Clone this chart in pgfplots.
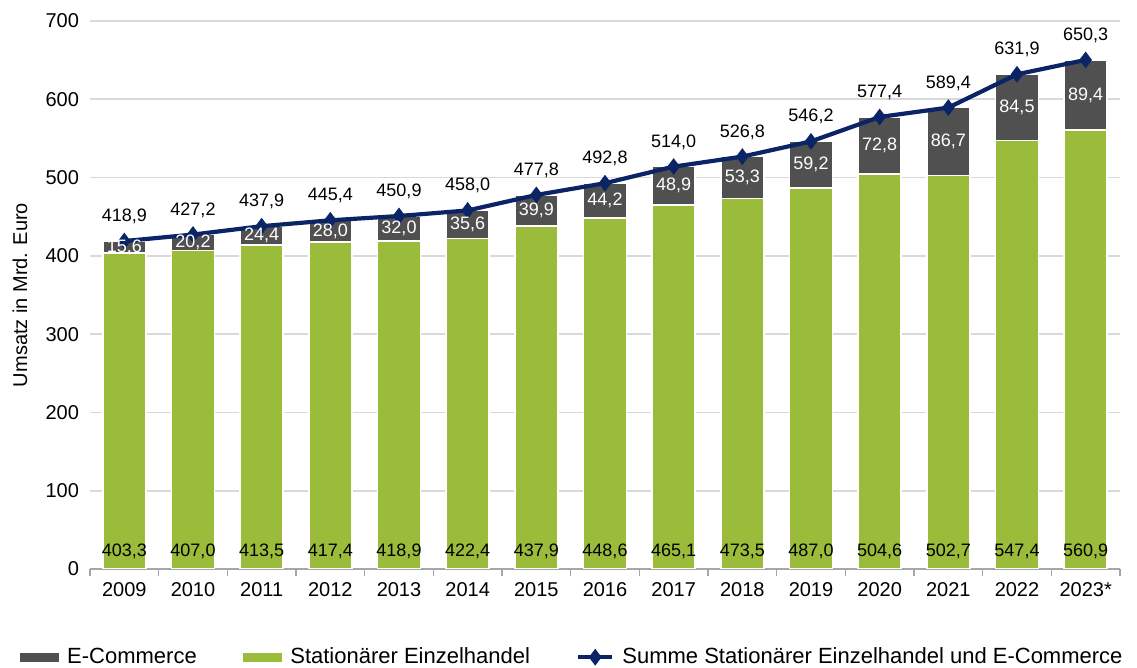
\documentclass[border=0pt]{standalone}
\usepackage{fontspec}
\setmainfont{Liberation Sans}
\usepackage{pgfplots}
\pgfplotsset{compat=1.18}
\usepackage{pgfplotstable}

\definecolor{ecom}{HTML}{505050}
\definecolor{stat}{HTML}{9BBB3B}
\definecolor{summe}{HTML}{0B2466}
\definecolor{gridgray}{HTML}{D9D9D9}

% i = position, s = stationaer, e = e-commerce, t = summe
\pgfplotstableread{
i s e t
0 403.3 15.6 418.9
1 407.0 20.2 427.2
2 413.5 24.4 437.9
3 417.4 28.0 445.4
4 418.9 32.0 450.9
5 422.4 35.6 458.0
6 437.9 39.9 477.8
7 448.6 44.2 492.8
8 465.1 48.9 514.0
9 473.5 53.3 526.8
10 487.0 59.2 546.2
11 504.6 72.8 577.4
12 502.7 86.7 589.4
13 547.4 84.5 631.9
14 560.9 89.4 650.3
}\umsatz

\tikzset{
  wert/.style={font=\fontsize{9}{11}\selectfont,
    /pgf/number format/fixed, /pgf/number format/fixed zerofill,
    /pgf/number format/precision=1, /pgf/number format/use comma,
    /pgf/number format/1000 sep={}},
}

\begin{document}
\begin{tikzpicture}
\pgfplotsset{/pgf/number format/assume math mode=true}
\begin{axis}[
  scale only axis, width=515pt, height=274pt,
  xmin=-0.5, xmax=14.5, ymin=0, ymax=700,
  xtick=data,
  xticklabels={2009,2010,2011,2012,2013,2014,2015,2016,2017,2018,2019,2020,2021,2022,2023*},
  minor xtick={-0.5,0.5,...,14.5},
  ytick={0,100,...,700},
  axis lines*=left,
  y axis line style={draw=none},
  x axis line style={draw=gray!70, line width=0.8pt},
  major tick length=0pt, minor tick length=3.5pt,
  xtick align=outside,
  minor tick style={gray!70, line width=0.8pt},
  ymajorgrids, grid style={gridgray, line width=0.8pt},
  tick label style={font=\fontsize{10}{12}\selectfont, text=black},
  yticklabel style={xshift=-2pt},
  xticklabel style={yshift=-3pt},
  ylabel={Umsatz in Mrd. Euro},
  ylabel style={at={(axis description cs:-0.068,0.5)}, anchor=center, font=\fontsize{10}{12}\selectfont},
  bar width=21.5pt,
  legend columns=3,
  legend style={draw=none, at={(0.469,-0.161)}, anchor=center,
    font=\fontsize{11}{13}\selectfont, column sep=2pt,
    /tikz/every even column/.append style={column sep=21pt}},
]
\addplot[ybar, bar shift=0pt, fill=ecom, draw=white, line width=0.8pt,
  legend image code/.code={\fill[ecom] (0pt,-1.8pt) rectangle (19pt,1.8pt);}]
  table[x=i, y=t] {\umsatz};
\addlegendentry{E-Commerce}
\addplot[ybar, bar shift=0pt, fill=stat, draw=white, line width=0.8pt,
  legend image code/.code={\fill[stat] (0pt,-1.8pt) rectangle (19pt,1.8pt);}]
  table[x=i, y=s] {\umsatz};
\addlegendentry{Stationärer Einzelhandel}
\addplot[summe, line width=2.1pt, mark=diamond*, mark size=3.8pt,
  mark options={fill=summe, line width=0.5pt},
  nodes near coords, point meta=y,
  every node near coord/.append style={text=black, anchor=south, yshift=5pt, wert}]
  table[x=i, y=t] {\umsatz};
\addlegendentry{Summe Stationärer Einzelhandel und E-Commerce}
% labels inside bars
\addplot[draw=none, mark=none, forget plot,
  nodes near coords, point meta=\thisrow{s},
  every node near coord/.append style={text=black, anchor=center, wert}]
  table[x=i, y expr=23] {\umsatz};
\addplot[draw=none, mark=none, forget plot,
  nodes near coords, point meta=\thisrow{e},
  every node near coord/.append style={text=white, anchor=center, wert}]
  table[x=i, y expr=\thisrow{s}+\thisrow{e}/2] {\umsatz};
\end{axis}
\pgfresetboundingbox
\path (-45pt,-49.5pt) rectangle (523.5pt,284.5pt);
\end{tikzpicture}
\end{document}
